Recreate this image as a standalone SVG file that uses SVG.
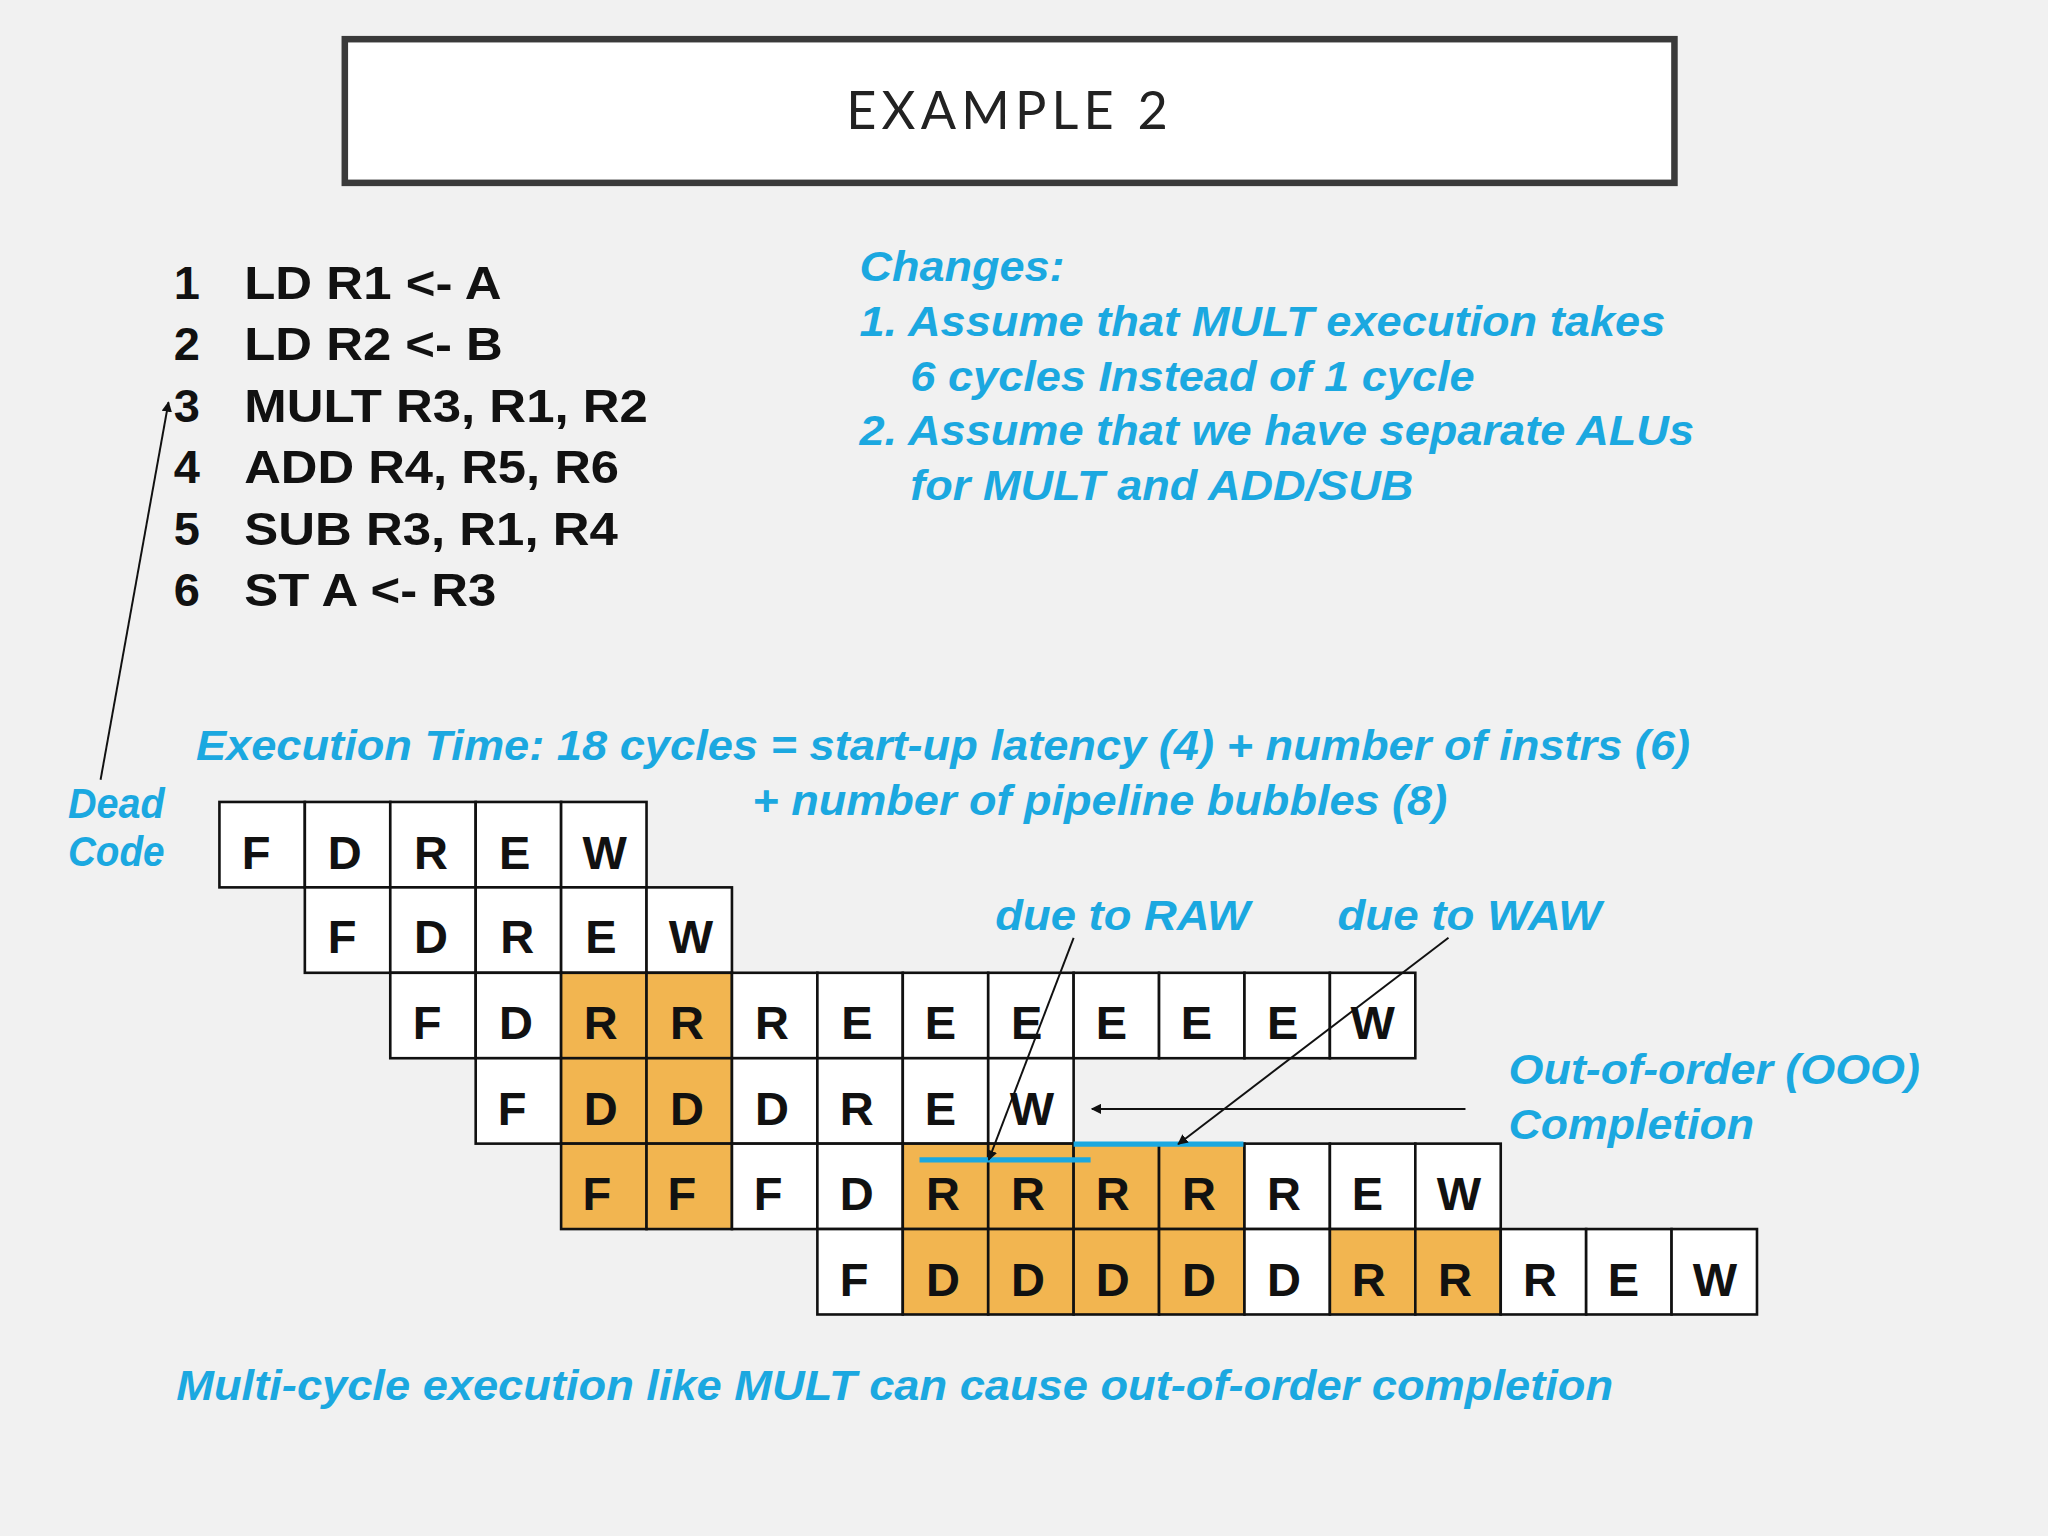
<svg xmlns="http://www.w3.org/2000/svg" width="2048" height="1536" viewBox="0 0 2048 1536">
<defs>
<style>
.c{fill:#fff;stroke:#111;stroke-width:2}
.o{fill:#F2B550;stroke:#111;stroke-width:2}
.l{font-family:"Liberation Sans",Arial,sans-serif;font-weight:bold;font-size:36px;fill:#111;text-anchor:middle}
.k{font-family:"Liberation Sans",Arial,sans-serif;font-weight:bold;font-size:36px;fill:#111}
.b{font-family:"Liberation Sans",Arial,sans-serif;font-weight:bold;font-style:italic;font-size:32px;fill:#1BA8E0}
.a{stroke:#111;stroke-width:1.5;fill:none;marker-end:url(#ah)}
</style>
<marker id="ah" viewBox="0 0 10 10" refX="9" refY="5" markerWidth="8" markerHeight="8" orient="auto-start-reverse" markerUnits="userSpaceOnUse"><path d="M0,0L10,5L0,10z" fill="#111"/></marker>
</defs>
<rect width="2048" height="1536" fill="#F1F1F1"/>
<g transform="scale(1.30612)">
<g id="title"><rect x="264" y="30" width="1018" height="110" fill="#fff" stroke="#3a3a3a" stroke-width="5"/>
<text x="773" y="99" font-family="Lato,'Liberation Sans',sans-serif" font-size="40" letter-spacing="4" fill="#222" text-anchor="middle">EXAMPLE 2</text></g>
<g id="code" class="k">
<text x="133" y="229" class="k">1</text><text x="187" y="229" class="k" textLength="197" lengthAdjust="spacingAndGlyphs">LD R1 &lt;- A</text>
<text x="133" y="276" class="k">2</text><text x="187" y="276" class="k" textLength="198" lengthAdjust="spacingAndGlyphs">LD R2 &lt;- B</text>
<text x="133" y="323" class="k">3</text><text x="187" y="323" class="k" textLength="309" lengthAdjust="spacingAndGlyphs">MULT R3, R1, R2</text>
<text x="133" y="370" class="k">4</text><text x="187" y="370" class="k" textLength="287" lengthAdjust="spacingAndGlyphs">ADD R4, R5, R6</text>
<text x="133" y="417" class="k">5</text><text x="187" y="417" class="k" textLength="286" lengthAdjust="spacingAndGlyphs">SUB R3, R1, R4</text>
<text x="133" y="464" class="k">6</text><text x="187" y="464" class="k" textLength="193" lengthAdjust="spacingAndGlyphs">ST A &lt;- R3</text>
</g>
<g id="changes">
<text x="658" y="215" class="b" textLength="157" lengthAdjust="spacingAndGlyphs">Changes:</text>
<text x="658" y="257" class="b" textLength="617" lengthAdjust="spacingAndGlyphs">1. Assume that MULT execution takes</text>
<text x="697" y="299" class="b" textLength="432" lengthAdjust="spacingAndGlyphs">6 cycles Instead of 1 cycle</text>
<text x="658" y="341" class="b" textLength="639" lengthAdjust="spacingAndGlyphs">2. Assume that we have separate ALUs</text>
<text x="697" y="383" class="b" textLength="385" lengthAdjust="spacingAndGlyphs">for MULT and ADD/SUB</text>
</g>
<g id="exec">
<text x="150" y="582" class="b" textLength="1144" lengthAdjust="spacingAndGlyphs">Execution Time: 18 cycles = start-up latency (4) + number of instrs (6)</text>
<text x="576" y="624" class="b" textLength="532" lengthAdjust="spacingAndGlyphs">+ number of pipeline bubbles (8)</text>
</g>
<g id="dead"><text x="52" y="626" class="b" textLength="74" lengthAdjust="spacingAndGlyphs">Dead</text><text x="52" y="663" class="b" textLength="74" lengthAdjust="spacingAndGlyphs">Code</text></g>
<g id="grid">
<rect class="c" x="168" y="614" width="65.4" height="65.4"/><rect class="c" x="233.4" y="614" width="65.4" height="65.4"/><rect class="c" x="298.8" y="614" width="65.4" height="65.4"/><rect class="c" x="364.2" y="614" width="65.4" height="65.4"/><rect class="c" x="429.6" y="614" width="65.4" height="65.4"/>
<text class="l" x="196" y="665">F</text><text class="l" x="264" y="665">D</text><text class="l" x="330" y="665">R</text><text class="l" x="394" y="665">E</text><text class="l" x="463" y="665">W</text>
<rect class="c" x="233.4" y="679.4" width="65.4" height="65.4"/><rect class="c" x="298.8" y="679.4" width="65.4" height="65.4"/><rect class="c" x="364.2" y="679.4" width="65.4" height="65.4"/><rect class="c" x="429.6" y="679.4" width="65.4" height="65.4"/><rect class="c" x="495" y="679.4" width="65.4" height="65.4"/>
<text class="l" x="262" y="730">F</text><text class="l" x="330" y="730">D</text><text class="l" x="396" y="730">R</text><text class="l" x="460" y="730">E</text><text class="l" x="529" y="730">W</text>
<g transform="translate(0,744.8)">
<rect class="c" x="298.8" width="65.4" height="65.4"/><rect class="c" x="364.2" width="65.4" height="65.4"/><rect class="o" x="429.6" width="65.4" height="65.4"/><rect class="o" x="495" width="65.4" height="65.4"/><rect class="c" x="560.4" width="65.4" height="65.4"/><rect class="c" x="625.8" width="65.4" height="65.4"/><rect class="c" x="691.2" width="65.4" height="65.4"/><rect class="c" x="756.6" width="65.4" height="65.4"/><rect class="c" x="822" width="65.4" height="65.4"/><rect class="c" x="887.4" width="65.4" height="65.4"/><rect class="c" x="952.8" width="65.4" height="65.4"/><rect class="c" x="1018.2" width="65.4" height="65.4"/>
<text class="l" x="327" y="51">F</text><text class="l" x="395" y="51">D</text><text class="l" x="460" y="51">R</text><text class="l" x="526" y="51">R</text><text class="l" x="591" y="51">R</text><text class="l" x="656" y="51">E</text><text class="l" x="720" y="51">E</text><text class="l" x="786" y="51">E</text><text class="l" x="851" y="51">E</text><text class="l" x="916" y="51">E</text><text class="l" x="982" y="51">E</text><text class="l" x="1051" y="51">W</text>
</g>
<g transform="translate(0,810.2)">
<rect class="c" x="364.2" width="65.4" height="65.4"/><rect class="o" x="429.6" width="65.4" height="65.4"/><rect class="o" x="495" width="65.4" height="65.4"/><rect class="c" x="560.4" width="65.4" height="65.4"/><rect class="c" x="625.8" width="65.4" height="65.4"/><rect class="c" x="691.2" width="65.4" height="65.4"/><rect class="c" x="756.6" width="65.4" height="65.4"/>
<text class="l" x="392" y="51">F</text><text class="l" x="460" y="51">D</text><text class="l" x="526" y="51">D</text><text class="l" x="591" y="51">D</text><text class="l" x="656" y="51">R</text><text class="l" x="720" y="51">E</text><text class="l" x="790" y="51">W</text>
</g>
<g transform="translate(0,875.6)">
<rect class="o" x="429.6" width="65.4" height="65.4"/><rect class="o" x="495" width="65.4" height="65.4"/><rect class="c" x="560.4" width="65.4" height="65.4"/><rect class="c" x="625.8" width="65.4" height="65.4"/><rect class="o" x="691.2" width="65.4" height="65.4"/><rect class="o" x="756.6" width="65.4" height="65.4"/><rect class="o" x="822" width="65.4" height="65.4"/><rect class="o" x="887.4" width="65.4" height="65.4"/><rect class="c" x="952.8" width="65.4" height="65.4"/><rect class="c" x="1018.2" width="65.4" height="65.4"/><rect class="c" x="1083.6" width="65.4" height="65.4"/>
<text class="l" x="457" y="51">F</text><text class="l" x="522" y="51">F</text><text class="l" x="588" y="51">F</text><text class="l" x="656" y="51">D</text><text class="l" x="722" y="51">R</text><text class="l" x="787" y="51">R</text><text class="l" x="852" y="51">R</text><text class="l" x="918" y="51">R</text><text class="l" x="983" y="51">R</text><text class="l" x="1047" y="51">E</text><text class="l" x="1117" y="51">W</text>
</g>
<g transform="translate(0,941)">
<rect class="c" x="625.8" width="65.4" height="65.4"/><rect class="o" x="691.2" width="65.4" height="65.4"/><rect class="o" x="756.6" width="65.4" height="65.4"/><rect class="o" x="822" width="65.4" height="65.4"/><rect class="o" x="887.4" width="65.4" height="65.4"/><rect class="c" x="952.8" width="65.4" height="65.4"/><rect class="o" x="1018.2" width="65.4" height="65.4"/><rect class="o" x="1083.6" width="65.4" height="65.4"/><rect class="c" x="1149" width="65.4" height="65.4"/><rect class="c" x="1214.4" width="65.4" height="65.4"/><rect class="c" x="1279.8" width="65.4" height="65.4"/>
<text class="l" x="654" y="51">F</text><text class="l" x="722" y="51">D</text><text class="l" x="787" y="51">D</text><text class="l" x="852" y="51">D</text><text class="l" x="918" y="51">D</text><text class="l" x="983" y="51">D</text><text class="l" x="1048" y="51">R</text><text class="l" x="1114" y="51">R</text><text class="l" x="1179" y="51">R</text><text class="l" x="1243" y="51">E</text><text class="l" x="1313" y="51">W</text>
</g>
</g>
<g id="labels">
<text x="762" y="712" class="b" textLength="195" lengthAdjust="spacingAndGlyphs">due to RAW</text>
<text x="1024" y="712" class="b" textLength="202" lengthAdjust="spacingAndGlyphs">due to WAW</text>
<text x="1155" y="830" class="b" textLength="315" lengthAdjust="spacingAndGlyphs">Out-of-order (OOO)</text>
<text x="1155" y="872" class="b" textLength="188" lengthAdjust="spacingAndGlyphs">Completion</text>
<text x="135" y="1072" class="b" textLength="1100" lengthAdjust="spacingAndGlyphs">Multi-cycle execution like MULT can cause out-of-order completion</text>
</g>
<g id="connectors">
<line x1="704" y1="888" x2="835" y2="888" stroke="#1BA8E0" stroke-width="4"/>
<line x1="822" y1="876" x2="952" y2="876" stroke="#1BA8E0" stroke-width="4"/>
<line class="a" x1="77" y1="597" x2="129" y2="308"/>
<line class="a" x1="822" y1="718" x2="757" y2="888"/>
<line class="a" x1="1109" y1="718" x2="902" y2="876"/>
<line class="a" x1="1122" y1="849" x2="836" y2="849"/>
</g>
</g>
</svg>
